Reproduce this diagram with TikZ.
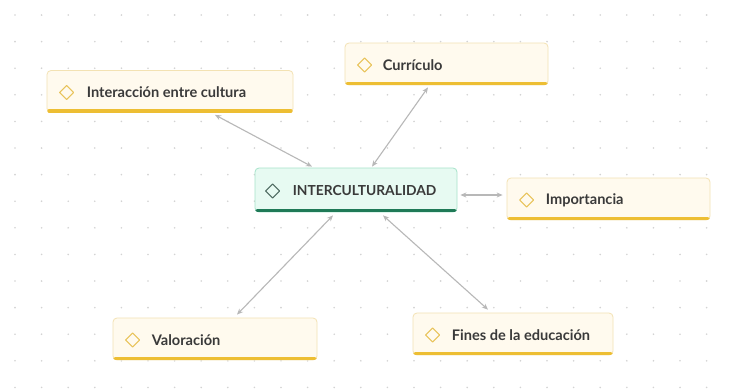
\documentclass[tikz,border=0pt]{standalone}
\usepackage{fontspec}
\setmainfont{Lato}
\usetikzlibrary{arrows.meta}
\definecolor{yfill}{HTML}{FFFAEE}
\definecolor{yborder}{HTML}{F3E2B3}
\definecolor{ybar}{HTML}{EDBE33}
\definecolor{gfill}{HTML}{E7FAF2}
\definecolor{gborder}{HTML}{A6E3CA}
\definecolor{gbar}{HTML}{1F7A57}
\definecolor{ydiam}{HTML}{E8C35A}
\definecolor{gdiam}{HTML}{4F6B62}
\definecolor{txt}{HTML}{3A3A3A}
\definecolor{dotc}{HTML}{D3D3D3}
\definecolor{conn}{HTML}{B8B8B8}
\tikzset{
  ybox/.style={draw=yborder, fill=yfill, rounded corners=4pt, line width=0.8pt, minimum height=42pt},
  gbox/.style={draw=gborder, fill=gfill, rounded corners=4pt, line width=0.8pt, minimum height=44pt},
  ybarline/.style={draw=ybar, line width=3.4pt, line cap=round},
  gbarline/.style={draw=gbar, line width=3.4pt, line cap=round},
  ydm/.style={draw=ydiam, line width=1pt, line join=round},
  gdm/.style={draw=gdiam, line width=1pt, line join=round},
  lbl/.style={anchor=west, text=txt, font=\fontsize{14.6}{16}\selectfont\bfseries, inner sep=0pt},
  clbl/.style={anchor=west, text=txt, font=\fontsize{13.8}{16}\selectfont\bfseries, inner sep=0pt},
  conn/.style={draw=conn, line width=1.1pt, {Stealth[length=6pt,width=5pt]}-{Stealth[length=6pt,width=5pt]}},
}
\begin{document}
\begin{tikzpicture}[x=1pt,y=-1pt]
\useasboundingbox (0,0) rectangle (729,391);
\fill[white] (0,0) rectangle (729,391);
% dot grid
\foreach \i in {0,...,27} {
  \foreach \j in {0,...,14} {
    \fill[dotc] ({15+26.6*\i},{15+26.6*\j}) circle (0.9pt);
  }
}
% boxes
\node[ybox, minimum width=246pt] (inter) at (170,91.5) {};
\node[ybox, minimum width=203pt] (curr) at (446.5,64) {};
\node[gbox, minimum width=202pt] (ctr) at (356,190) {};
\node[ybox, minimum width=203pt] (imp) at (608.5,199) {};
\node[ybox, minimum width=204pt] (val) at (215,339) {};
\node[ybox, minimum width=200pt] (fin) at (513,334) {};
% bottom bars
\foreach \n in {inter,curr,imp,val,fin} {
  \draw[ybarline] ([xshift=2.5pt,yshift=1.9pt]\n.south west) -- ([xshift=-2.5pt,yshift=1.9pt]\n.south east);
}
\draw[gbarline] ([xshift=2.5pt,yshift=1.9pt]ctr.south west) -- ([xshift=-2.5pt,yshift=1.9pt]ctr.south east);
% diamonds
\foreach \n in {inter,curr,imp,val,fin} {
  \draw[ydm] ([xshift=20pt,yshift=-1pt]\n.west) +(-7,0) -- +(0,-7) -- +(7,0) -- +(0,7) -- cycle;
}
\draw[gdm] ([xshift=18pt,yshift=-1pt]ctr.west) +(-7,0) -- +(0,-7) -- +(7,0) -- +(0,7) -- cycle;
% labels
\node[lbl] (interT) at ([xshift=40pt,yshift=-1pt]inter.west) {Interacción entre cultura};
\node[lbl] (currT) at ([xshift=38pt,yshift=-1pt]curr.west) {Currículo};
\node[clbl] (ctrT) at ([xshift=38pt,yshift=-1pt]ctr.west) {INTERCULTURALIDAD};
\node[lbl] (impT) at ([xshift=39pt,yshift=-1pt]imp.west) {Importancia};
\node[lbl] (valT) at ([xshift=39pt,yshift=-1pt]val.west) {Valoración};
\node[lbl] (finT) at ([xshift=39pt,yshift=-1pt]fin.west) {Fines de la educación};
% connectors
\draw[conn] ([xshift=45pt,yshift=-2pt]inter.south) -- ([xshift=-44pt,yshift=1pt]ctr.north);
\draw[conn] ([xshift=-18.5pt,yshift=-2pt]curr.south) -- ([xshift=16pt,yshift=1pt]ctr.north);
\draw[conn] ([xshift=3pt,yshift=-5pt]ctr.east) -- ([xshift=-4pt,yshift=4pt]imp.west);
\draw[conn] ([xshift=-23pt,yshift=-3pt]ctr.south) -- ([xshift=22pt,yshift=3pt]val.north);
\draw[conn] ([xshift=27pt,yshift=-3pt]ctr.south) -- ([xshift=-25pt,yshift=3pt]fin.north);
\end{tikzpicture}
\end{document}
